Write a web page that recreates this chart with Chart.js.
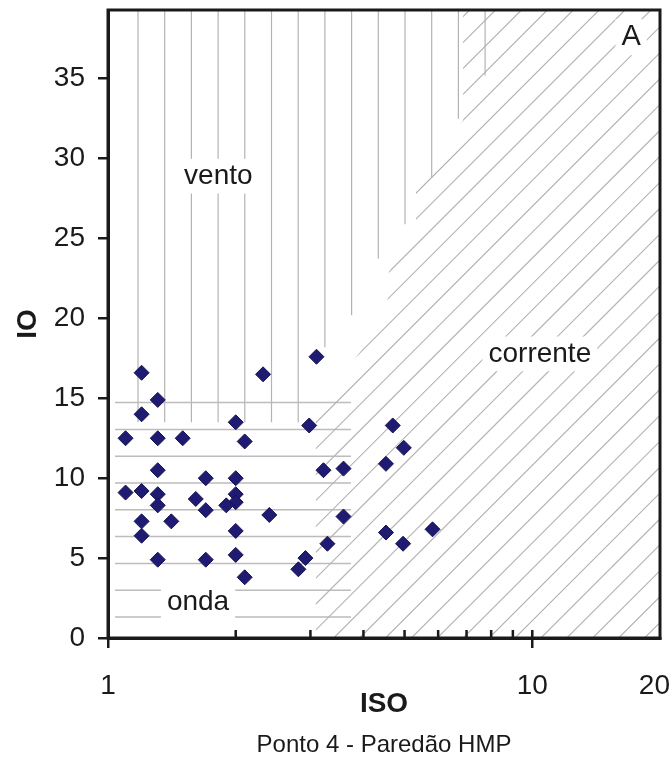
<!DOCTYPE html>
<html lang="pt">
<head>
    <meta charset="UTF-8">
    <title>Ponto 4 - Paredão HMP</title>
<script src="https://cdn.jsdelivr.net/npm/chart.js"></script>
<style>
    body { margin:0; background:#fff; }
</style>
</head>
<body>
<canvas id="myChart" width="672" height="760"></canvas>
<script>
    // dados (ISO no eixo x log, IO no eixo y)
    const isoValues = [1.2, 2.32, 3.1, 1.31, 1.2, 2.0, 2.98, 1.1, 1.31, 1.5, 2.1,
                       1.31, 1.7, 2.0, 3.22, 3.59, 1.1, 1.2, 1.31, 1.31, 1.61, 1.7,
                       2.0, 2.0, 1.9, 2.4, 3.59, 1.2, 1.2, 1.41, 2.0, 3.29, 1.31,
                       1.7, 2.0, 2.92, 2.81, 2.1, 4.69, 4.98, 4.52, 4.52, 4.96, 5.82];
    const ioValues  = [16.6, 16.5, 17.6, 14.9, 14.0, 13.5, 13.3, 12.5, 12.5, 12.5, 12.3,
                       10.5, 10.0, 10.0, 10.5, 10.6, 9.1, 9.2, 9.0, 8.3, 8.7, 8.0,
                       9.0, 8.5, 8.3, 7.7, 7.6, 7.3, 6.4, 7.3, 6.7, 5.9, 4.9,
                       4.9, 5.2, 5.0, 4.3, 3.8, 13.3, 11.9, 10.9, 6.6, 5.9, 6.8];

    const xTicks = [1, 2, 3, 4, 5, 6, 7, 8, 9, 10, 20];
    const xTickLabels = [1, 10, 20];
    const yTicks = [0, 5, 10, 15, 20, 25, 30, 35];
    const xMin = 1, xMax = 20, yMin = 0, yMax = 39.3;

    // zonas (vertices em ISO, IO)
    const ventoZone = [[1, 39.3], [8.36, 39.3], [8.36, 35.2], [7.21, 35.2], [7.21, 32.5],
                       [6.26, 32.5], [6.26, 28.8], [5.41, 28.8], [5.41, 25.9], [4.67, 25.9],
                       [4.67, 23.75], [4.03, 23.75], [4.03, 20.2], [3.48, 20.2], [3.48, 18.2],
                       [3.02, 18.2], [3.02, 13.5], [1, 13.5]];
    const ondaZone = [[1.039, 0], [3.74, 0], [3.74, 14.9], [1.039, 14.9]];
    const correnteZone = [[6.87, 39.3], [20, 39.3], [20, 0], [3.09, 0], [3.09, 14.6],
                          [3.31, 15.2], [4.54, 20.2], [4.59, 22.9], [5.32, 25.8],
                          [5.32, 28.1], [6.87, 32.4]];
    const zoneLabels = [
        {text: 'vento', x: 1.82, y: 28.9},
        {text: 'onda', x: 1.63, y: 2.25},
        {text: 'corrente', x: 10.42, y: 17.78},
        {text: 'A', x: 17.1, y: 37.6, size: 29}
    ];

    const FONT = "'Liberation Sans', Arial, sans-serif";

    const zonasPlugin = {
        id: 'zonas',
        beforeDatasetsDraw(chart) {
            const {ctx, chartArea: a, scales: {x, y}} = chart;
            const clipTo = (pts) => {
                ctx.beginPath();
                pts.forEach((p, i) => {
                    const px = x.getPixelForValue(p[0]), py = y.getPixelForValue(p[1]);
                    if (i) ctx.lineTo(px, py); else ctx.moveTo(px, py);
                });
                ctx.closePath();
                ctx.clip();
            };
            ctx.save();
            ctx.beginPath();
            ctx.rect(a.left, a.top, a.right - a.left, a.bottom - a.top);
            ctx.clip();

            // vento - linhas verticais
            ctx.save();
            clipTo(ventoZone);
            ctx.strokeStyle = '#b3b3b3';
            ctx.lineWidth = 1.2;
            ctx.beginPath();
            for (let px = a.left + 30; px < a.right; px += 26.7) {
                ctx.moveTo(px, a.top); ctx.lineTo(px, a.bottom);
            }
            ctx.stroke();
            ctx.restore();

            // onda - linhas horizontais
            ctx.save();
            clipTo(ondaZone);
            ctx.strokeStyle = '#bcbcbc';
            ctx.lineWidth = 1.5;
            ctx.beginPath();
            for (let py = a.bottom - 21; py > a.top; py -= 26.8) {
                ctx.moveTo(a.left, py); ctx.lineTo(a.right, py);
            }
            ctx.stroke();
            ctx.restore();

            // corrente - linhas diagonais
            ctx.save();
            clipTo(correnteZone);
            ctx.strokeStyle = '#b3b3b3';
            ctx.lineWidth = 1.1;
            const h = a.bottom - a.top;
            ctx.beginPath();
            for (let c = a.left + 407 - 25.9 * 40; c < a.right; c += 25.9) {
                ctx.moveTo(c, a.bottom); ctx.lineTo(c + h, a.top);
            }
            ctx.stroke();
            ctx.restore();

            // rotulos das zonas com fundo branco
            zoneLabels.forEach(l => {
                const size = l.size || 28;
                ctx.font = size + 'px ' + FONT;
                const w = ctx.measureText(l.text).width;
                const px = x.getPixelForValue(l.x), py = y.getPixelForValue(l.y);
                ctx.fillStyle = '#fff';
                ctx.fillRect(px - w / 2 - 6, py - size * 0.62, w + 12, size * 1.24);
                ctx.fillStyle = '#1a1a1a';
                ctx.textAlign = 'center';
                ctx.textBaseline = 'middle';
                ctx.fillText(l.text, px, py);
            });
            ctx.restore();
        },
        afterDatasetsDraw(chart) {
            const {ctx, chartArea: a, scales: {x}} = chart;
            ctx.save();
            ctx.strokeStyle = '#1a1a1a';
            ctx.lineWidth = 2.5;
            ctx.beginPath();
            xTicks.forEach(v => {
                if (v === xMin || v === xMax) return;
                const px = x.getPixelForValue(v);
                ctx.moveTo(px, a.bottom); ctx.lineTo(px, a.bottom - 8);
            });
            ctx.stroke();
            ctx.lineWidth = 3;
            ctx.strokeRect(a.left, a.top, a.right - a.left, a.bottom - a.top);
            ctx.restore();
        },
        afterDraw(chart) {
            const {ctx, chartArea: a} = chart;
            ctx.save();
            ctx.font = '24px ' + FONT;
            ctx.fillStyle = '#1a1a1a';
            ctx.textAlign = 'center';
            ctx.textBaseline = 'middle';
            ctx.fillText('Ponto 4 - Paredão HMP', (a.left + a.right) / 2, 745);
            ctx.restore();
        }
    };

    const ctx = document.querySelector('#myChart');
    const isoChart = new Chart(ctx, {
        type: 'scatter',
        data: {
            datasets: [{
                label: 'Ponto 4',
                data: isoValues.map((v, i) => ({x: v, y: ioValues[i]})),
                pointStyle: 'rectRot',
                pointRadius: 7.5,
                pointHoverRadius: 7.5,
                backgroundColor: '#1f1b72',
                borderColor: '#16134f',
                borderWidth: 1
            }]
        },
        options: {
            responsive: false,
            animation: false,
            layout: { padding: {top: 10, right: 12, left: 0, bottom: 0} },
            plugins: {
                legend: { display: false },
                tooltip: { enabled: false }
            },
            scales: {
                x: {
                    type: 'logarithmic',
                    min: xMin,
                    max: xMax,
                    afterBuildTicks: (axis) => { axis.ticks = xTicks.map(v => ({value: v})); },
                    afterFit: (axis) => {
                        axis.height = 122;
                        axis.paddingLeft = 0;
                        axis.paddingRight = 0;
                    },
                    grid: {
                        drawOnChartArea: false,
                        drawTicks: true,
                        tickLength: 10,
                        lineWidth: 2.5,
                        color: (c) => (c.tick && (c.tick.value === 1 || c.tick.value === 10)) ? '#1a1a1a' : 'rgba(0,0,0,0)'
                    },
                    border: { display: true, color: '#1a1a1a', width: 3 },
                    ticks: {
                        autoSkip: false,
                        maxRotation: 0,
                        padding: 21,
                        color: '#1a1a1a',
                        font: { family: FONT, size: 28 },
                        // o 20 fica encostado na borda, por isso o espaco fino
                        callback: (v) => xTickLabels.includes(v) ? (v === xMax ? v + '\u2009\u2009' : String(v)) : ''
                    },
                    title: {
                        display: true,
                        text: 'ISO',
                        color: '#1a1a1a',
                        font: { family: FONT, size: 28, weight: 'bold' },
                        padding: {top: 0, bottom: 39}
                    }
                },
                y: {
                    min: yMin,
                    max: yMax,
                    afterBuildTicks: (axis) => { axis.ticks = yTicks.map(v => ({value: v})); },
                    afterFit: (axis) => {
                        axis.width = 108;
                        axis.paddingTop = 0;
                        axis.paddingBottom = 0;
                    },
                    grid: {
                        drawOnChartArea: false,
                        drawTicks: true,
                        tickLength: 10,
                        lineWidth: 2.5,
                        color: '#1a1a1a'
                    },
                    border: { display: true, color: '#1a1a1a', width: 3 },
                    ticks: {
                        padding: 13,
                        color: '#1a1a1a',
                        font: { family: FONT, size: 28 }
                    },
                    title: {
                        display: true,
                        text: 'IO',
                        color: '#1a1a1a',
                        font: { family: FONT, size: 28, weight: 'bold' },
                        padding: {top: 11, bottom: 0}
                    }
                }
            }
        },
        plugins: [zonasPlugin]
    });
</script>
</body>
</html>
